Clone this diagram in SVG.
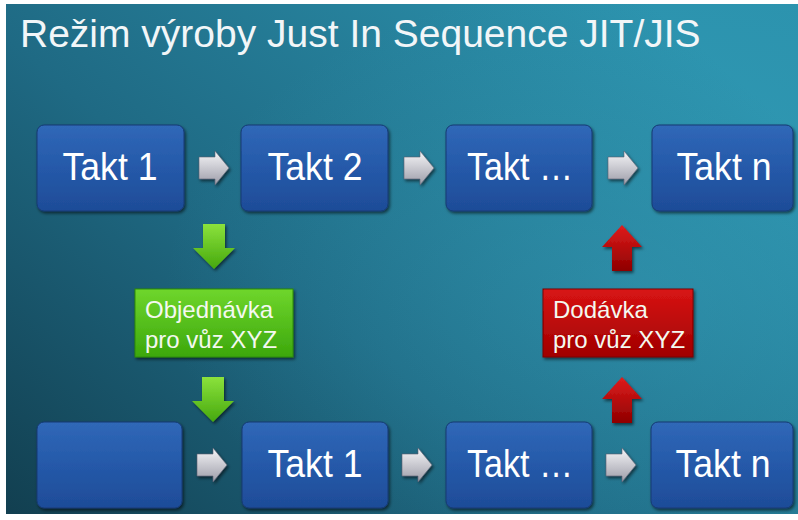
<svg xmlns="http://www.w3.org/2000/svg" width="798" height="520" viewBox="0 0 798 520">
  <defs>
    <linearGradient id="bg" x1="0" y1="1" x2="1" y2="0.25">
      <stop offset="0" stop-color="#123f50"/>
      <stop offset="0.45" stop-color="#1f6a84"/>
      <stop offset="1" stop-color="#2c93ae"/>
    </linearGradient>
    <radialGradient id="glow" cx="0.8" cy="0.55" r="0.6">
      <stop offset="0" stop-color="#3aa6c0" stop-opacity="0.35"/>
      <stop offset="1" stop-color="#3aa6c0" stop-opacity="0"/>
    </radialGradient>
    <linearGradient id="blue" x1="0" y1="0" x2="0" y2="1">
      <stop offset="0" stop-color="#3068b8"/>
      <stop offset="0.5" stop-color="#2559a9"/>
      <stop offset="1" stop-color="#1e4c98"/>
    </linearGradient>
    <linearGradient id="green" x1="0" y1="0" x2="0" y2="1">
      <stop offset="0" stop-color="#6fd62c"/>
      <stop offset="1" stop-color="#3ca70c"/>
    </linearGradient>
    <linearGradient id="red" x1="0" y1="0" x2="0" y2="1">
      <stop offset="0" stop-color="#d81414"/>
      <stop offset="1" stop-color="#a00000"/>
    </linearGradient>
    <linearGradient id="greenArrow" x1="0" y1="0" x2="0" y2="1">
      <stop offset="0" stop-color="#8be23c"/>
      <stop offset="1" stop-color="#46a80e"/>
    </linearGradient>
    <linearGradient id="redArrow" x1="0" y1="0" x2="0" y2="1">
      <stop offset="0" stop-color="#e01c1c"/>
      <stop offset="1" stop-color="#8e0000"/>
    </linearGradient>
    <linearGradient id="grayArrow" x1="0" y1="0" x2="0" y2="1">
      <stop offset="0" stop-color="#f6f6f8"/>
      <stop offset="1" stop-color="#9c9ca8"/>
    </linearGradient>
    <filter id="shadow" x="-10%" y="-10%" width="125%" height="130%">
      <feDropShadow dx="1.5" dy="2" stdDeviation="1.5" flood-color="#000" flood-opacity="0.55"/>
    </filter>
    <!-- reusable arrow shapes -->
    <path id="arrowRight" d="M0,-11 H16 V-17 L30,0 L16,17 V11 H0 Z"/>
    <path id="arrowDown" d="M-11,0 H11 V24 H21 L0,45 L-21,24 H-11 Z"/>
    <path id="arrowUp" d="M0,0 L20,22 H10 V46 H-10 V22 H-20 Z"/>
  </defs>
  <style>
    .box { fill: url(#blue); stroke: #163a72; stroke-width: 1; filter: url(#shadow); }
    .label { font-family: "Liberation Sans", Arial, sans-serif; font-size: 38px; fill: #ffffff; text-anchor: middle; }
    .note { font-family: "Liberation Sans", Arial, sans-serif; font-size: 24px; fill: #f4f8f0; }
    .gray { fill: url(#grayArrow); stroke: #5a6070; stroke-width: 0.6; filter: url(#shadow); }
    .garrow { fill: url(#greenArrow); filter: url(#shadow); }
    .rarrow { fill: url(#redArrow); filter: url(#shadow); }
  </style>

  <!-- frame and background -->
  <rect x="0" y="0" width="798" height="520" fill="#ffffff"/>
  <rect x="6" y="4" width="792" height="510" fill="url(#bg)"/>
  <rect x="6" y="4" width="792" height="510" fill="url(#glow)"/>

  <text id="title" x="20" y="47" font-family="'Liberation Sans', Arial, sans-serif" font-size="39" fill="#f2f6f8">Režim výroby Just In Sequence JIT/JIS</text>

  <!-- connectors -->
  <g id="connectors">
    <use href="#arrowRight" class="gray" transform="translate(199,168)"/>
    <use href="#arrowRight" class="gray" transform="translate(404,168)"/>
    <use href="#arrowRight" class="gray" transform="translate(608,168)"/>
    <use href="#arrowRight" class="gray" transform="translate(197,465)"/>
    <use href="#arrowRight" class="gray" transform="translate(402,465)"/>
    <use href="#arrowRight" class="gray" transform="translate(606,465)"/>
    <use href="#arrowDown" class="garrow" transform="translate(214,224)"/>
    <use href="#arrowDown" class="garrow" transform="translate(213,377)"/>
    <use href="#arrowUp" class="rarrow" transform="translate(622,225)"/>
    <use href="#arrowUp" class="rarrow" transform="translate(622,377)"/>
  </g>

  <!-- top row -->
  <g id="top-takt-1">
    <rect class="box" x="37" y="125" width="147" height="86" rx="7"/>
    <text class="label" x="110" y="180" textLength="95" lengthAdjust="spacingAndGlyphs">Takt 1</text>
  </g>
  <g id="top-takt-2">
    <rect class="box" x="241" y="125" width="147" height="86" rx="7"/>
    <text class="label" x="315" y="180" textLength="95" lengthAdjust="spacingAndGlyphs">Takt 2</text>
  </g>
  <g id="top-takt-dots">
    <rect class="box" x="446" y="125" width="146" height="86" rx="7"/>
    <text class="label" x="520" y="180" textLength="106" lengthAdjust="spacingAndGlyphs">Takt …</text>
  </g>
  <g id="top-takt-n">
    <rect class="box" x="652" y="125" width="141" height="86" rx="7"/>
    <text class="label" x="724" y="180" textLength="95" lengthAdjust="spacingAndGlyphs">Takt n</text>
  </g>

  <!-- order / delivery notes -->
  <g id="order">
    <rect x="135" y="289" width="158" height="68" fill="url(#green)" stroke="#2f8a08" stroke-width="1" filter="url(#shadow)"/>
    <text class="note" x="145" y="318">Objednávka</text>
    <text class="note" x="145" y="348">pro vůz XYZ</text>
  </g>
  <g id="delivery">
    <rect x="543" y="289" width="150" height="68" fill="url(#red)" stroke="#7a0000" stroke-width="1" filter="url(#shadow)"/>
    <text class="note" x="553" y="318">Dodávka</text>
    <text class="note" x="553" y="348">pro vůz XYZ</text>
  </g>

  <!-- bottom row -->
  <g id="bottom-empty">
    <rect class="box" x="37" y="422" width="145" height="86" rx="7"/>
  </g>
  <g id="bottom-takt-1">
    <rect class="box" x="242" y="422" width="146" height="86" rx="7"/>
    <text class="label" x="315" y="477" textLength="95" lengthAdjust="spacingAndGlyphs">Takt 1</text>
  </g>
  <g id="bottom-takt-dots">
    <rect class="box" x="446" y="422" width="146" height="86" rx="7"/>
    <text class="label" x="520" y="477" textLength="106" lengthAdjust="spacingAndGlyphs">Takt …</text>
  </g>
  <g id="bottom-takt-n">
    <rect class="box" x="651" y="422" width="142" height="86" rx="7"/>
    <text class="label" x="723" y="477" textLength="95" lengthAdjust="spacingAndGlyphs">Takt n</text>
  </g>
</svg>
